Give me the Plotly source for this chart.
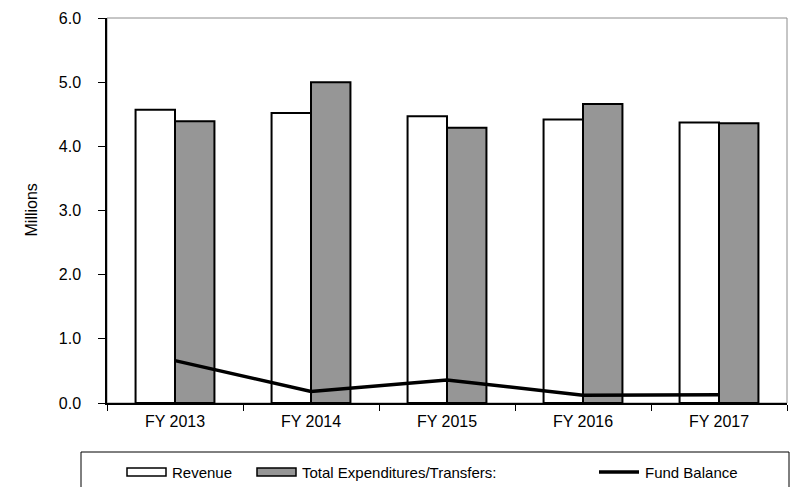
import plotly.graph_objects as go

# Fiscal years and amounts (millions of dollars)
years = ["FY 2013", "FY 2014", "FY 2015", "FY 2016", "FY 2017"]
revenue = [4.57, 4.52, 4.47, 4.42, 4.37]
expenditures = [4.39, 5.00, 4.29, 4.66, 4.36]
fund_balance = [0.66, 0.18, 0.36, 0.12, 0.13]

y_ticks = [0, 1, 2, 3, 4, 5, 6]
series_names = ["Revenue", "Total Expenditures/Transfers:", "Fund Balance"]

FONT = "Liberation Sans, Arial, sans-serif"
GRAY_FILL = "#969696"

W, H = 798, 487
ML, MR, MT, MB = 107, 11, 18, 84
PW, PH = W - ML - MR, H - MT - MB


def px(x):
    """pixel x -> paper x"""
    return (x - ML) / PW


def py(y):
    """pixel y -> paper y"""
    return (H - MB - y) / PH


fig = go.Figure()

fig.add_trace(go.Bar(
    x=years, y=revenue, name=series_names[0],
    marker=dict(color="white", line=dict(color="black", width=2)),
    showlegend=False,
))
fig.add_trace(go.Bar(
    x=years, y=expenditures, name=series_names[1],
    marker=dict(color=GRAY_FILL, line=dict(color="black", width=2)),
    showlegend=False,
))
fig.add_trace(go.Scatter(
    x=years, y=fund_balance, name=series_names[2], mode="lines",
    line=dict(color="black", width=3.5),
    showlegend=False,
))

# legend key positions (left edge of key, left edge of label), in pixels
key_left = [127, 257, 599]
label_left = [170, 300, 643]

shapes = [
    # light frame on the top and right of the plot area
    dict(type="rect", xref="paper", yref="paper", x0=0, x1=1, y0=0, y1=1,
         line=dict(color="#8c8c8c", width=1), layer="below"),
    # legend frame
    dict(type="rect", xref="paper", yref="paper",
         x0=px(81), x1=px(789), y0=py(492), y1=py(452),
         line=dict(color="black", width=1), fillcolor="white", layer="above"),
    # legend keys
    dict(type="rect", xref="paper", yref="paper",
         x0=px(key_left[0]), x1=px(key_left[0] + 39), y0=py(476), y1=py(468),
         line=dict(color="black", width=1.5), fillcolor="white", layer="above"),
    dict(type="rect", xref="paper", yref="paper",
         x0=px(key_left[1]), x1=px(key_left[1] + 39), y0=py(476), y1=py(468),
         line=dict(color="black", width=1.5), fillcolor=GRAY_FILL, layer="above"),
    dict(type="line", xref="paper", yref="paper",
         x0=px(key_left[2]), x1=px(key_left[2] + 40), y0=py(472), y1=py(472),
         line=dict(color="black", width=3.5), layer="above"),
]

annotations = [
    dict(text="Millions", xref="paper", yref="paper", x=px(31), y=0.5,
         textangle=-90, showarrow=False, xanchor="center", yanchor="middle",
         font=dict(family=FONT, size=16, color="black")),
]
for label, x_left in zip(series_names, label_left):
    annotations.append(dict(
        text=label, xref="paper", yref="paper", x=px(x_left), y=py(472),
        showarrow=False, xanchor="left", yanchor="middle",
        font=dict(family=FONT, size=15, color="black"),
    ))

fig.update_layout(
    width=W, height=H,
    margin=dict(l=ML, r=MR, t=MT, b=MB, pad=0),
    paper_bgcolor="white", plot_bgcolor="white",
    barmode="group", bargap=0.42, bargroupgap=0,
    font=dict(family=FONT, size=16, color="black"),
    shapes=shapes, annotations=annotations,
    showlegend=False,
)
fig.update_xaxes(
    type="category", showline=True, linecolor="black", linewidth=1.5,
    ticks="outside", tickson="boundaries", ticklen=6, tickcolor="black",
    tickwidth=1, showgrid=False, ticklabelstandoff=3,
    tickfont=dict(family=FONT, size=16, color="black"),
)
fig.update_yaxes(
    range=[0, 6], tickvals=y_ticks, tickformat=".1f",
    showline=True, linecolor="black", linewidth=1.5,
    ticks="outside", ticklen=7, tickcolor="black", tickwidth=1,
    showgrid=False, zeroline=False, ticklabelstandoff=14,
    tickfont=dict(family=FONT, size=16, color="black"),
)

fig.write_html("out.html")
